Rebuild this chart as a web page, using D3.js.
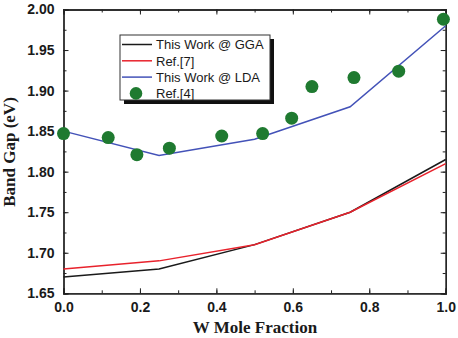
<!DOCTYPE html>
<html><head><meta charset="utf-8">
<script src="https://cdn.jsdelivr.net/npm/d3@7"></script>
<style>html,body{margin:0;padding:0;background:#fff;}</style>
</head><body>
<svg id="c" width="458" height="338"></svg>
<script>
const xFrac = [0, 0.25, 0.5, 0.75, 1.0];
const ggaValues = [1.670, 1.680, 1.710, 1.750, 1.815];
const ref7Values = [1.680, 1.690, 1.710, 1.750, 1.810];
const ldaValues = [1.850, 1.820, 1.840, 1.880, 1.980];
const ref4X = [0.0, 0.117, 0.192, 0.277, 0.414, 0.521, 0.597, 0.650, 0.760, 0.877, 0.994];
const ref4Y = [1.847, 1.842, 1.821, 1.829, 1.844, 1.847, 1.866, 1.905, 1.916, 1.924, 1.988];
const xTicks = [0.0, 0.2, 0.4, 0.6, 0.8, 1.0];
const yTicks = [1.65, 1.70, 1.75, 1.80, 1.85, 1.90, 1.95, 2.00];
const legendLabels = ["This Work @ GGA", "Ref.[7]", "This Work @ LDA", "Ref.[4]"];

const svg = d3.select("#c");
const L = 63.5, R = 445.7, T = 9.5, B = 293.3;
const x = d3.scaleLinear().domain([0, 1]).range([L, R]);
const y = d3.scaleLinear().domain([1.65, 2.0]).range([B, T]);

const colors = {gga: "#1a1a1a", ref7: "#e8222c", lda: "#4352b8", ref4: "#1f7a30"};

// axes (ticks inward)
const minorX = d3.range(0, 1.0001, 0.1);
const minorY = d3.range(1.65, 2.0001, 0.025);
const tickFmt = d3.format(".1f");
const axB = d3.axisBottom(x).tickValues(xTicks).tickSize(-5).tickPadding(9).tickFormat(tickFmt);
const axT = d3.axisTop(x).tickValues(xTicks).tickSize(-5).tickFormat("");
const axL = d3.axisLeft(y).tickValues(yTicks).tickSize(-5).tickPadding(9).tickFormat(d3.format(".2f"));
const axR = d3.axisRight(y).tickValues(yTicks).tickSize(-5).tickFormat("");
const mB = d3.axisBottom(x).tickValues(minorX).tickSize(-3).tickFormat("");
const mT = d3.axisTop(x).tickValues(minorX).tickSize(-3).tickFormat("");
const mL = d3.axisLeft(y).tickValues(minorY).tickSize(-3).tickFormat("");
const mR = d3.axisRight(y).tickValues(minorY).tickSize(-3).tickFormat("");

function styleAx(g){
  g.selectAll("path.domain").attr("stroke","#222").attr("stroke-width",1.3);
  g.selectAll(".tick line").attr("stroke","#222").attr("stroke-width",1);
  g.selectAll("text").attr("font-family","Liberation Sans, Arial, sans-serif").attr("font-weight","bold").attr("font-size",14).attr("fill","#1a1a1a");
}
[[mB,B,0],[mT,T,0]].forEach(([a,yy])=>svg.append("g").attr("transform",`translate(0,${yy})`).call(a).call(styleAx));
[[mL,L],[mR,R]].forEach(([a,xx])=>svg.append("g").attr("transform",`translate(${xx},0)`).call(a).call(styleAx));
svg.append("g").attr("transform",`translate(0,${B})`).call(axB).call(styleAx);
svg.append("g").attr("transform",`translate(0,${T})`).call(axT).call(styleAx);
svg.append("g").attr("transform",`translate(${L},0)`).call(axL).call(styleAx);
svg.append("g").attr("transform",`translate(${R},0)`).call(axR).call(styleAx);

// lines
const line = d3.line().x(d=>x(d[0])).y(d=>y(d[1]));
const series = [[ggaValues, colors.gga],[ref7Values, colors.ref7],[ldaValues, colors.lda]];
series.forEach(([vals,col])=>{
  svg.append("path").datum(xFrac.map((v,i)=>[v, vals[i]]))
    .attr("d", line).attr("fill","none").attr("stroke",col).attr("stroke-width",1.5);
});
// dots
svg.append("g").selectAll("circle").data(ref4X.map((v,i)=>[v, ref4Y[i]])).join("circle")
  .attr("cx", d=>x(d[0])).attr("cy", d=>y(d[1])).attr("r", 6.5).attr("fill", colors.ref4);

// axis titles
svg.append("text").attr("x", 255).attr("y", 333).attr("text-anchor","middle")
  .attr("font-family","Liberation Serif, Times New Roman, serif").attr("font-weight","bold").attr("font-size",17)
  .attr("fill","#1a1a1a").text("W Mole Fraction");
svg.append("text").attr("transform","translate(15,152) rotate(-90)").attr("text-anchor","middle")
  .attr("font-family","Liberation Serif, Times New Roman, serif").attr("font-weight","bold").attr("font-size",17)
  .attr("fill","#1a1a1a").text("Band Gap (eV)");

// legend
const lg = svg.append("g");
const lx = 120, ly = 35, lw = 150, lh = 65;
lg.append("rect").attr("x", lx+4).attr("y", ly+4).attr("width", lw).attr("height", lh).attr("fill","#111");
lg.append("rect").attr("x", lx).attr("y", ly).attr("width", lw).attr("height", lh).attr("fill","#fff").attr("stroke","#333").attr("stroke-width",1);
const legCols = [colors.gga, colors.ref7, colors.lda, colors.ref4];
legendLabels.forEach((lab,i)=>{
  const yy = ly + 9.5 + i*16.3;
  if (i < 3) {
    lg.append("line").attr("x1", 122).attr("x2", 152).attr("y1", yy).attr("y2", yy).attr("stroke", legCols[i]).attr("stroke-width",1.5);
  } else {
    lg.append("circle").attr("cx", 136).attr("cy", yy).attr("r", 6.3).attr("fill", legCols[i]);
  }
  lg.append("text").attr("x", 156).attr("y", yy+4.7).attr("font-family","Liberation Sans, Arial, sans-serif")
    .attr("font-size",13).attr("fill","#1a1a1a").text(lab);
});
</script>
</body></html>
